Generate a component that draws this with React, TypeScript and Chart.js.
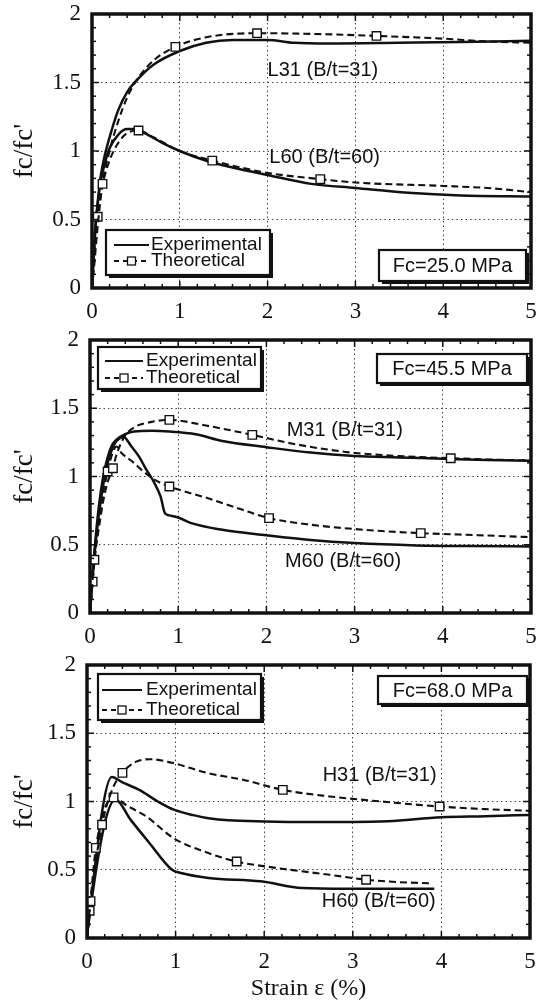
import React, { useEffect, useRef } from 'react';
import { Chart, registerables } from 'chart.js';

Chart.register(...registerables);

// ---------- tick labels ----------
const X_TICKS = [0, 1, 2, 3, 4, 5];
const Y_TICKS = [0, 0.5, 1, 1.5, 2];
const LEGEND_LABELS = ['Experimental', 'Theoretical'];
const Y_TITLE = "fc/fc'";
const X_TITLE = 'Strain ε (%)';

// ---------- Panel 1 (Fc = 25.0 MPa) ----------
const L31_EXP_X = [0, 0.02, 0.04, 0.07, 0.1, 0.15, 0.2, 0.3, 0.4, 0.5, 0.7, 1.0, 1.3, 1.6, 2.0, 2.3, 2.7, 3.5, 4.2, 5.0];
const L31_EXP_Y = [0, 0.25, 0.45, 0.66, 0.82, 0.98, 1.1, 1.3, 1.43, 1.51, 1.63, 1.73, 1.79, 1.81, 1.81, 1.79, 1.785, 1.79, 1.795, 1.805];
const L31_THE_X = [0, 0.03, 0.06, 0.12, 0.2, 0.3, 0.4, 0.5, 0.7, 0.95, 1.3, 1.88, 2.5, 3.24, 4.0, 4.5, 5.0];
const L31_THE_Y = [0, 0.2, 0.42, 0.76, 1.0, 1.22, 1.39, 1.51, 1.66, 1.76, 1.83, 1.86, 1.855, 1.84, 1.82, 1.8, 1.79];
const L31_THE_MARKERS = [3, 9, 11, 13];
const L60_EXP_X = [0, 0.02, 0.04, 0.07, 0.1, 0.15, 0.2, 0.3, 0.4, 0.5, 0.6, 0.8, 1.0, 1.32, 1.6, 2.0, 2.5, 3.0, 3.6, 4.2, 5.0];
const L60_EXP_Y = [0, 0.25, 0.45, 0.64, 0.78, 0.92, 1.02, 1.12, 1.16, 1.16, 1.13, 1.06, 1.0, 0.925, 0.88, 0.825, 0.76, 0.73, 0.695, 0.675, 0.668];
const L60_THE_X = [0, 0.03, 0.065, 0.12, 0.2, 0.3, 0.4, 0.53, 0.7, 1.0, 1.37, 2.0, 2.6, 3.0, 4.0, 4.5, 5.0];
const L60_THE_Y = [0, 0.25, 0.52, 0.75, 0.93, 1.06, 1.13, 1.15, 1.1, 1.0, 0.93, 0.84, 0.795, 0.77, 0.745, 0.73, 0.7];
const L60_THE_MARKERS = [2, 7, 10, 12];

// ---------- Panel 2 (Fc = 45.5 MPa) ----------
const M31_EXP_X = [0, 0.02, 0.05, 0.1, 0.15, 0.2, 0.25, 0.3, 0.4, 0.5, 0.7, 0.9, 1.2, 1.5, 2.0, 2.5, 3.0, 3.5, 4.0, 4.5, 5.0];
const M31_EXP_Y = [0, 0.2, 0.45, 0.78, 1.0, 1.14, 1.23, 1.27, 1.31, 1.33, 1.335, 1.33, 1.31, 1.26, 1.215, 1.175, 1.15, 1.14, 1.13, 1.12, 1.115];
const M31_THE_X = [0, 0.05, 0.1, 0.15, 0.2, 0.26, 0.3, 0.4, 0.5, 0.7, 0.9, 1.3, 1.84, 2.3, 2.9, 3.5, 4.09, 4.5, 5.0];
const M31_THE_Y = [0, 0.39, 0.62, 0.82, 0.96, 1.06, 1.16, 1.3, 1.36, 1.4, 1.415, 1.375, 1.305, 1.24, 1.18, 1.15, 1.134, 1.125, 1.117];
const M31_THE_MARKERS = [1, 5, 10, 12, 16];
const M60_EXP_X = [0, 0.02, 0.05, 0.1, 0.15, 0.2, 0.25, 0.3, 0.38, 0.47, 0.556, 0.63, 0.71, 0.8, 0.85, 0.9, 1.0, 1.14, 1.5, 2.0, 2.5, 3.0, 3.7, 4.3, 5.0];
const M60_EXP_Y = [0, 0.18, 0.42, 0.72, 0.94, 1.1, 1.2, 1.26, 1.29, 1.22, 1.146, 1.06, 0.976, 0.854, 0.73, 0.715, 0.7, 0.66, 0.61, 0.57, 0.535, 0.512, 0.495, 0.49, 0.488];
const M60_THE_X = [0, 0.03, 0.1, 0.2, 0.26, 0.3, 0.36, 0.48, 0.6, 0.75, 0.9, 1.34, 1.73, 2.03, 2.51, 3.1, 3.75, 4.4, 5.0];
const M60_THE_Y = [0, 0.23, 0.68, 1.037, 1.18, 1.22, 1.17, 1.11, 1.04, 0.97, 0.927, 0.84, 0.756, 0.695, 0.646, 0.61, 0.585, 0.57, 0.556];
const M60_THE_MARKERS = [1, 3, 10, 13, 16];

// ---------- Panel 3 (Fc = 68.0 MPa) ----------
const H31_EXP_X = [0, 0.01, 0.28, 0.4, 0.59, 0.8, 0.98, 1.2, 1.37, 1.6, 2.0, 2.5, 3.0, 3.4, 4.0, 4.5, 5.0];
const H31_EXP_Y = [0, 0.07, 1.18, 1.14, 1.085, 1.0, 0.94, 0.9, 0.878, 0.862, 0.854, 0.85, 0.85, 0.856, 0.885, 0.892, 0.902];
const H31_THE_X = [0, 0.04, 0.17, 0.28, 0.4, 0.55, 0.71, 0.98, 1.37, 1.76, 2.21, 2.74, 3.32, 3.98, 4.5, 5.0];
const H31_THE_Y = [0, 0.27, 0.83, 1.08, 1.21, 1.29, 1.31, 1.28, 1.207, 1.16, 1.085, 1.037, 1.0, 0.963, 0.944, 0.932];
const H31_THE_MARKERS = [1, 2, 4, 10, 13];
const H60_EXP_X = [0, 0.01, 0.32, 0.5, 0.7, 0.96, 1.06, 1.37, 1.96, 2.43, 2.93, 3.92];
const H60_EXP_Y = [0, 0.07, 1.012, 0.86, 0.7, 0.5, 0.476, 0.44, 0.415, 0.366, 0.36, 0.36];
const H60_THE_X = [0, 0.03, 0.1, 0.3, 0.45, 0.67, 0.98, 1.37, 1.69, 2.15, 2.74, 3.15, 3.5, 3.9];
const H60_THE_Y = [0, 0.2, 0.66, 1.03, 0.97, 0.89, 0.73, 0.622, 0.56, 0.512, 0.463, 0.427, 0.41, 0.4];
const H60_THE_MARKERS = [1, 2, 3, 8, 11];

// ---------- fonts ----------
const SERIF = '"Liberation Serif", "Times New Roman", serif';
const SANS = '"Liberation Sans", Arial, sans-serif';
const INK = '#111';

type Curve = { xs: number[]; ys: number[]; dashed: boolean; markers: number[] };
type Label = { text: string; x: number; y: number };
type Panel = {
  canvasTop: number;
  canvasHeight: number;
  plotLeft: number;
  plotRight: number;
  plotTop: number;
  plotBottom: number;
  curves: Curve[];
  labels: Label[];
  fcText: string;
  fcBox: { x: number; y: number; w: number; h: number };
  legend: { x: number; y: number; w: number; h: number; lineX0: number; lineX1: number; textX: number; row1: number; row2: number };
  xTitle: boolean;
};

const PANELS: Panel[] = [
  {
    canvasTop: 0, canvasHeight: 328, plotLeft: 92, plotRight: 531, plotTop: 14, plotBottom: 288,
    curves: [
      { xs: L31_THE_X, ys: L31_THE_Y, dashed: true, markers: L31_THE_MARKERS },
      { xs: L60_THE_X, ys: L60_THE_Y, dashed: true, markers: L60_THE_MARKERS },
      { xs: L31_EXP_X, ys: L31_EXP_Y, dashed: false, markers: [] },
      { xs: L60_EXP_X, ys: L60_EXP_Y, dashed: false, markers: [] },
    ],
    labels: [
      { text: 'L31 (B/t=31)', x: 2.0, y: 1.59 },
      { text: 'L60 (B/t=60)', x: 2.02, y: 0.956 },
    ],
    fcText: 'Fc=25.0 MPa',
    fcBox: { x: 379, y: 250, w: 147, h: 31 },
    legend: { x: 106, y: 230, w: 164, h: 45, lineX0: 114, lineX1: 149, textX: 151, row1: 245, row2: 261 },
    xTitle: false,
  },
  {
    canvasTop: 328, canvasHeight: 327, plotLeft: 90, plotRight: 531, plotTop: 340, plotBottom: 613,
    curves: [
      { xs: M31_THE_X, ys: M31_THE_Y, dashed: true, markers: M31_THE_MARKERS },
      { xs: M60_THE_X, ys: M60_THE_Y, dashed: true, markers: M60_THE_MARKERS },
      { xs: M31_EXP_X, ys: M31_EXP_Y, dashed: false, markers: [] },
      { xs: M60_EXP_X, ys: M60_EXP_Y, dashed: false, markers: [] },
    ],
    labels: [
      { text: 'M31 (B/t=31)', x: 2.23, y: 1.34 },
      { text: 'M60 (B/t=60)', x: 2.21, y: 0.374 },
    ],
    fcText: 'Fc=45.5 MPa',
    fcBox: { x: 377, y: 354, w: 150, h: 29 },
    legend: { x: 98, y: 347, w: 163, h: 42, lineX0: 105, lineX1: 143, textX: 146, row1: 361, row2: 378 },
    xTitle: false,
  },
  {
    canvasTop: 655, canvasHeight: 350, plotLeft: 87, plotRight: 530, plotTop: 665, plotBottom: 938,
    curves: [
      { xs: H31_THE_X, ys: H31_THE_Y, dashed: true, markers: H31_THE_MARKERS },
      { xs: H60_THE_X, ys: H60_THE_Y, dashed: true, markers: H60_THE_MARKERS },
      { xs: H31_EXP_X, ys: H31_EXP_Y, dashed: false, markers: [] },
      { xs: H60_EXP_X, ys: H60_EXP_Y, dashed: false, markers: [] },
    ],
    labels: [
      { text: 'H31 (B/t=31)', x: 2.66, y: 1.194 },
      { text: 'H60 (B/t=60)', x: 2.65, y: 0.264 },
    ],
    fcText: 'Fc=68.0 MPa',
    fcBox: { x: 378, y: 676, w: 149, h: 28 },
    legend: { x: 98, y: 674, w: 163, h: 46, lineX0: 102, lineX1: 142, textX: 146, row1: 690, row2: 710 },
    xTitle: true,
  },
];

function drawShadowBox(ctx: CanvasRenderingContext2D, x: number, y: number, w: number, h: number) {
  ctx.fillStyle = INK;
  ctx.fillRect(x + 3, y + 3, w, h);
  ctx.fillStyle = '#fff';
  ctx.fillRect(x, y, w, h);
  ctx.strokeStyle = INK;
  ctx.lineWidth = 2.2;
  ctx.setLineDash([]);
  ctx.strokeRect(x, y, w, h);
}

function makeDecor(p: Panel) {
  return {
    id: 'decor',
    afterDraw(chart: any) {
      const { ctx, chartArea: a } = chart;
      const xs = chart.scales.x;
      const ys = chart.scales.y;
      const off = p.canvasTop;
      ctx.save();
      ctx.setLineDash([]);
      ctx.strokeStyle = INK;
      ctx.lineWidth = 1.5;
      const seg = (x0: number, y0: number, x1: number, y1: number) => {
        ctx.beginPath();
        ctx.moveTo(x0, y0);
        ctx.lineTo(x1, y1);
        ctx.stroke();
      };
      // inner minor ticks
      for (let i = 0; i <= 25; i++) {
        const px = xs.getPixelForValue(i * 0.2);
        const len = i % 5 === 0 ? 7 : 4;
        seg(px, a.bottom, px, a.bottom - len);
        seg(px, a.top, px, a.top + len);
      }
      for (let i = 0; i <= 20; i++) {
        const py = ys.getPixelForValue(i * 0.1);
        const len = i % 5 === 0 ? 7 : 4;
        seg(a.left, py, a.left + len, py);
        seg(a.right, py, a.right - len, py);
      }
      // frame
      ctx.lineWidth = 3.5;
      ctx.strokeRect(a.left, a.top, a.right - a.left, a.bottom - a.top);

      // curve labels
      ctx.fillStyle = INK;
      ctx.font = `20px ${SANS}`;
      ctx.textAlign = 'left';
      ctx.textBaseline = 'middle';
      for (const l of p.labels) {
        ctx.fillText(l.text, xs.getPixelForValue(l.x), ys.getPixelForValue(l.y));
      }

      // legend box
      const L = p.legend;
      drawShadowBox(ctx, L.x, L.y - off, L.w, L.h);
      ctx.strokeStyle = INK;
      ctx.lineWidth = 1.8;
      ctx.setLineDash([]);
      seg(L.lineX0, L.row1 - off, L.lineX1, L.row1 - off);
      ctx.setLineDash([5, 4]);
      seg(L.lineX0, L.row2 - off, L.lineX1, L.row2 - off);
      ctx.setLineDash([]);
      const mx = (L.lineX0 + L.lineX1) / 2;
      ctx.fillStyle = '#fff';
      ctx.fillRect(mx - 4, L.row2 - off - 4, 8, 8);
      ctx.lineWidth = 1.3;
      ctx.strokeRect(mx - 4, L.row2 - off - 4, 8, 8);
      ctx.fillStyle = INK;
      ctx.font = `19px ${SANS}`;
      ctx.textAlign = 'left';
      ctx.textBaseline = 'middle';
      ctx.fillText(LEGEND_LABELS[0], L.textX, L.row1 - off);
      ctx.fillText(LEGEND_LABELS[1], L.textX, L.row2 - off);

      // Fc box
      const F = p.fcBox;
      drawShadowBox(ctx, F.x, F.y - off, F.w, F.h);
      ctx.fillStyle = INK;
      ctx.font = `20px ${SANS}`;
      ctx.textAlign = 'center';
      ctx.textBaseline = 'middle';
      ctx.fillText(p.fcText, F.x + F.w / 2, F.y - off + F.h / 2 + 1);
      ctx.restore();
    },
  };
}

function buildChart(canvas: HTMLCanvasElement, p: Panel) {
  const datasets = p.curves.map((c) => ({
    data: c.xs.map((x, i) => ({ x, y: c.ys[i] })),
    showLine: true,
    borderColor: INK,
    borderWidth: c.dashed ? 2.1 : 2.5,
    borderDash: c.dashed ? [7, 4] : [],
    cubicInterpolationMode: 'monotone' as const,
    pointStyle: 'rect' as const,
    pointRadius: (ctx: any) => (c.markers.includes(ctx.dataIndex) ? 6 : 0),
    pointHoverRadius: 0,
    pointBackgroundColor: '#fff',
    pointBorderColor: INK,
    pointBorderWidth: 1.4,
  }));

  const top = p.plotTop - p.canvasTop;
  const bottom = p.plotBottom - p.canvasTop;

  return new Chart(canvas, {
    type: 'scatter',
    data: { datasets },
    plugins: [makeDecor(p)],
    options: {
      responsive: false,
      animation: false,
      devicePixelRatio: 1,
      events: [],
      layout: { padding: { top, right: 544 - p.plotRight, left: 0, bottom: 0 } },
      plugins: { legend: { display: false }, tooltip: { enabled: false }, title: { display: false } },
      scales: {
        x: {
          type: 'linear',
          min: 0,
          max: 5,
          afterBuildTicks: (s: any) => {
            s.ticks = X_TICKS.map((value) => ({ value }));
          },
          afterFit: (s: any) => {
            s.height = p.canvasHeight - bottom;
            s.paddingLeft = 0;
            s.paddingRight = 0;
          },
          ticks: {
            autoSkip: false,
            maxRotation: 0,
            padding: 10,
            color: INK,
            font: { family: SERIF, size: 23, lineHeight: 1.2 },
            callback: (v: any) => String(v),
          },
          grid: { color: '#444', lineWidth: 1, drawTicks: false },
          border: { display: false, dash: [1.5, 3] },
          title: {
            display: p.xTitle,
            text: X_TITLE,
            color: INK,
            font: { family: SERIF, size: 24, lineHeight: 1.2 },
            padding: { top: 0, bottom: 2 },
          },
        },
        y: {
          type: 'linear',
          min: 0,
          max: 2,
          afterBuildTicks: (s: any) => {
            s.ticks = Y_TICKS.map((value) => ({ value }));
          },
          afterFit: (s: any) => {
            s.width = p.plotLeft;
            s.paddingTop = 0;
            s.paddingBottom = 0;
          },
          ticks: {
            padding: 11,
            color: INK,
            font: { family: SERIF, size: 23, lineHeight: 1.2 },
            callback: (v: any) => String(v),
          },
          grid: { color: '#444', lineWidth: 1, drawTicks: false },
          border: { display: false, dash: [1.5, 3] },
          title: {
            display: true,
            text: Y_TITLE,
            color: INK,
            font: { family: SERIF, size: 27, lineHeight: 1.2 },
            padding: { top: 9, bottom: 0 },
          },
        },
      },
    } as any,
  });
}

function PanelChart({ p }: { p: Panel }) {
  const ref = useRef<HTMLCanvasElement>(null);
  useEffect(() => {
    if (!ref.current) return;
    const chart = buildChart(ref.current, p);
    return () => chart.destroy();
  }, [p]);
  return (
    <canvas
      ref={ref}
      width={544}
      height={p.canvasHeight}
      style={{ position: 'absolute', left: 0, top: p.canvasTop, width: 544, height: p.canvasHeight }}
    />
  );
}

export default function App() {
  return (
    <div style={{ position: 'absolute', left: 0, top: 0, width: 544, height: 1005, background: '#fff', overflow: 'hidden' }}>
      {PANELS.map((p, i) => (
        <PanelChart key={i} p={p} />
      ))}
    </div>
  );
}
